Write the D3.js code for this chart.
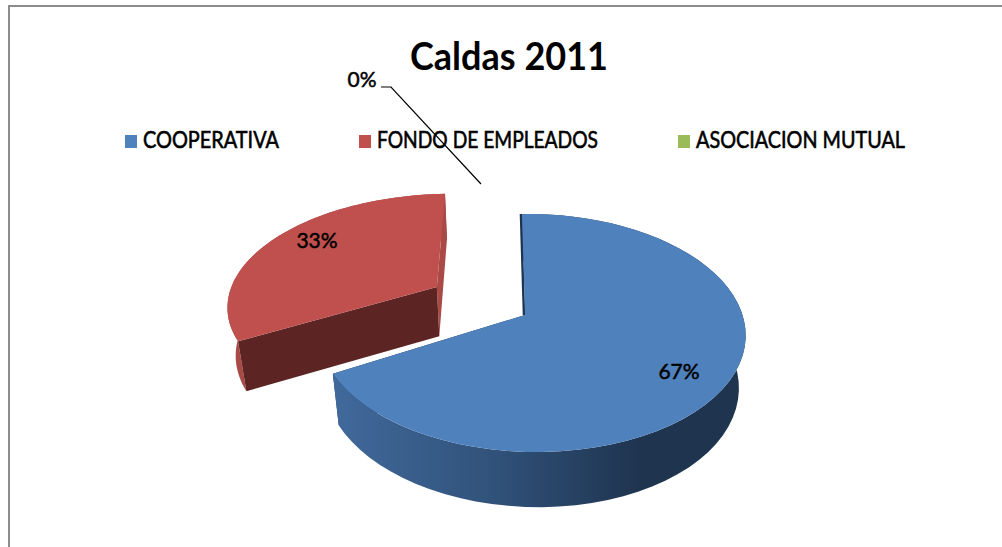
<!DOCTYPE html>
<html>
<head>
<meta charset="utf-8">
<script src="https://cdn.jsdelivr.net/npm/d3@7"></script>
<style>
html, body { margin: 0; padding: 0; background: #fff; }
svg { display: block; }
text { font-family: Lato, "Open Sans", sans-serif; fill: #000; }
</style>
</head>
<body>
<div id="graph_container"></div>
<script>
var categories = ["COOPERATIVA", "FONDO DE EMPLEADOS", "ASOCIACION MUTUAL"];
var values = [67, 33, 0];
var percentLabels = ["67%", "33%", "0%"];
var chartTitle = "Caldas 2011";
var colors = ["#4f81bd", "#c0504d", "#9bbb59"];

var w = 1002, h = 547;

// tilted disc: disc coords (-1..1) to screen with a bit of perspective
var cam = {cx: 525, cy: 315, r: 211, k: 116.3, skew: 3.5, p: 0.151, q: 0.03, lift: 52.5, far: 0.03};
var explode = {x: -0.435, y: -0.2535, stretch: 1.07};
var noExplode = {x: 0, y: 0, stretch: 1};

function project(X, Y, low) {
    var pw = 1 - cam.p * Y - cam.q * X + (low ? cam.far : 0);
    return [
        cam.cx + (cam.r * X + cam.skew * Y) / pw,
        cam.cy + (cam.k * Y + (low ? cam.lift : 0)) / pw
    ];
}

function rimPoints(a0, a1, off, low) {
    return d3.range(0, 61).map(function(i) {
        var a = a0 + (a1 - a0) * i / 60;
        return project(off.x + off.stretch * Math.sin(a), off.y - Math.cos(a), low);
    });
}

var line = d3.line();
var pie = d3.pie().sort(null).value(function(d) { return d; });
var arcs = pie(values);

var svg = d3.select("#graph_container").append("svg")
    .attr("width", w)
    .attr("height", h);

// frame: only left and top edges are in the picture
svg.append("path")
    .attr("d", line([[9, h], [9, 6], [w, 6]]))
    .attr("fill", "none")
    .attr("stroke", "#8c8c8c")
    .attr("stroke-width", 2);

var blueWall = svg.append("defs").append("linearGradient")
    .attr("id", "blueWall")
    .attr("gradientUnits", "userSpaceOnUse")
    .attr("x1", 333).attr("x2", 640).attr("y1", 0).attr("y2", 0);
blueWall.append("stop").attr("offset", 0).attr("stop-color", "#41699b");
blueWall.append("stop").attr("offset", 0.5).attr("stop-color", "#31537c");
blueWall.append("stop").attr("offset", 1).attr("stop-color", "#1f344f");

function drawSlice(d, off, wallFill, seamFill) {
    var g = svg.append("g");
    var hub = project(off.x, off.y, false);
    var hubLow = project(off.x, off.y, true);
    var rim = rimPoints(d.startAngle, d.endAngle, off, false);
    var rimLow = rimPoints(d.startAngle, d.endAngle, off, true);

    // seam on the end of the slice that faces away
    g.append("path")
        .attr("d", line([rim[rim.length - 1], hub, hubLow, rimLow[rimLow.length - 1]]) + "Z")
        .attr("fill", seamFill);
    // outer wall
    g.append("path")
        .attr("d", line(rim.concat(rimLow.slice().reverse())) + "Z")
        .attr("fill", wallFill);
    return {g: g, hub: hub, hubLow: hubLow, rim: rim, rimLow: rimLow};
}

// red slice sits behind the blue one
var red = drawSlice(arcs[1], explode, "#a94a47", "#a94a47");
red.g.append("path")
    .attr("d", line([red.rim[0], red.hub, red.hubLow, red.rimLow[0]]) + "Z")
    .attr("fill", "#5c2523");
red.g.append("path")
    .attr("d", line([red.hub].concat(red.rim)) + "Z")
    .attr("fill", colors[1]);

var blue = drawSlice(arcs[0], noExplode, "url(#blueWall)", "#1f344f");
blue.g.append("path")
    .attr("d", line([blue.rim[0], blue.hub]))
    .attr("transform", "translate(-1,0)")
    .attr("stroke", "#1f344f")
    .attr("stroke-width", 2.5)
    .attr("fill", "none");
blue.g.append("path")
    .attr("d", line([blue.hub].concat(blue.rim)) + "Z")
    .attr("fill", colors[0]);

// title
svg.append("text")
    .attr("x", 509).attr("y", 70)
    .attr("text-anchor", "middle")
    .attr("font-size", 39)
    .attr("font-weight", 700)
    .attr("textLength", 198)
    .attr("lengthAdjust", "spacingAndGlyphs")
    .text(chartTitle);

// legend
var legendX = [125, 359, 678];
var legendW = [136, 221, 209];
categories.forEach(function(c, i) {
    svg.append("rect")
        .attr("x", legendX[i]).attr("y", 135)
        .attr("width", 12).attr("height", 13)
        .attr("fill", colors[i]);
    svg.append("text")
        .attr("x", legendX[i] + 18).attr("y", 148)
        .attr("font-size", 23)
        .attr("stroke", "#000")
        .attr("stroke-width", 0.6)
        .attr("textLength", legendW[i])
        .attr("lengthAdjust", "spacingAndGlyphs")
        .text(c);
});

// data labels
var labelPos = [[679, 379], [317, 248], [362, 87]];
percentLabels.forEach(function(t, i) {
    svg.append("text")
        .attr("x", labelPos[i][0]).attr("y", labelPos[i][1])
        .attr("text-anchor", "middle")
        .attr("font-size", 21)
        .attr("stroke", "#000")
        .attr("stroke-width", 0.5)
        .text(t);
});

// leader line of the 0% label
svg.append("path")
    .attr("d", line([[381, 87], [391, 87], [481, 184]]))
    .attr("fill", "none")
    .attr("stroke", "#000")
    .attr("stroke-width", 1.2);
</script>
</body>
</html>
